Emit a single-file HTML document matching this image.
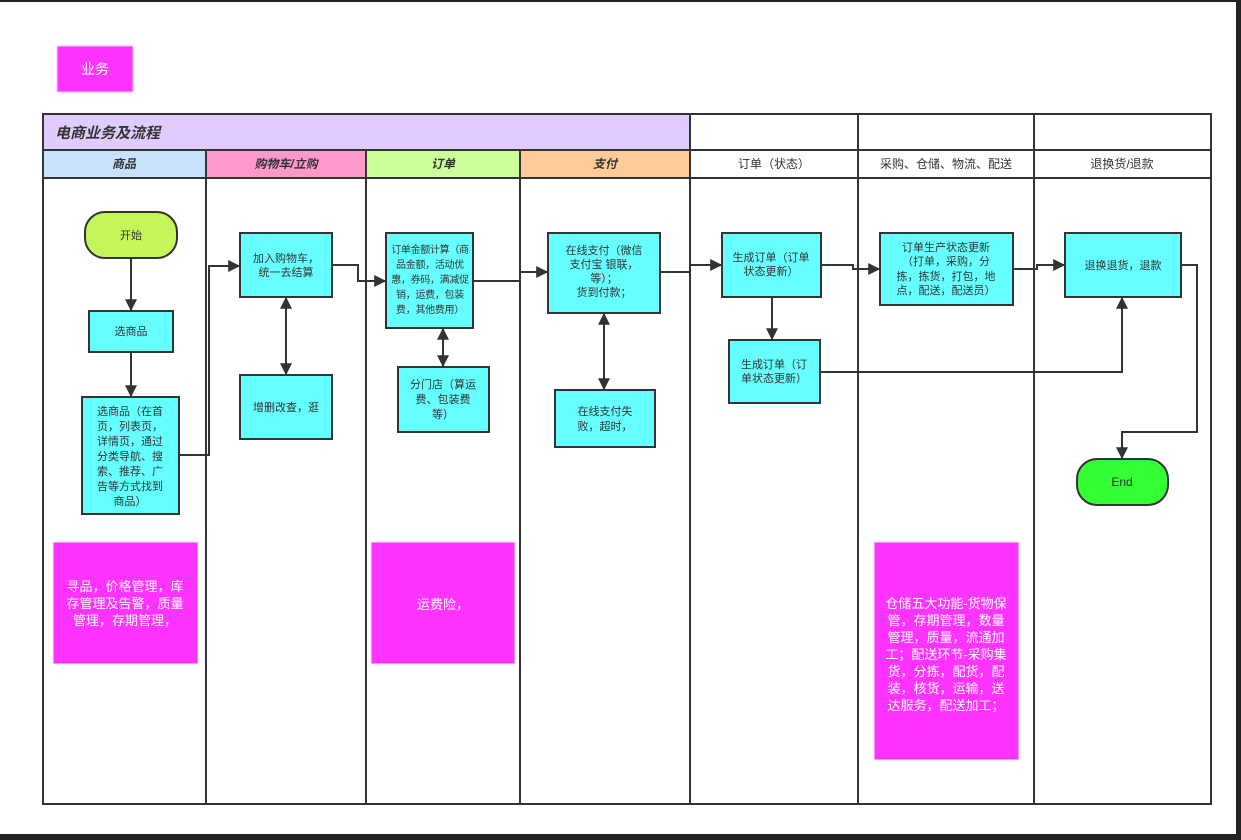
<!DOCTYPE html>
<html><head><meta charset="utf-8"><style>
html,body{margin:0;padding:0;background:#fff;}
body{width:1241px;height:840px;overflow:hidden;position:relative;font-family:"Liberation Sans","Noto Sans CJK SC",sans-serif;}
</style></head><body>
<svg width="1241" height="840" xmlns="http://www.w3.org/2000/svg" style="position:absolute;left:0;top:0" font-family="Liberation Sans, Noto Sans CJK SC, sans-serif">
<defs><marker id="a" viewBox="0 0 10 10" refX="9" refY="5" markerWidth="6" markerHeight="6" orient="auto-start-reverse"><path d="M0,0 L10,5 L0,10 z" fill="#333"/></marker></defs>
<rect x="0" y="0" width="1241" height="2" fill="#222"/>
<rect x="1236" y="0" width="5" height="840" fill="#222"/>
<rect x="0" y="834" width="1241" height="6" fill="#222"/>
<rect x="57" y="46" width="76" height="46" fill="#ff33ff" stroke="#f9c0f9"/>
<text x="95" y="74" fill="#fff" font-size="14" text-anchor="middle">业务</text>
<rect x="43" y="114" width="647" height="36" fill="#e0ccff"/>
<rect x="43" y="150" width="163" height="28" fill="#c8e2fb"/>
<rect x="206" y="150" width="160" height="28" fill="#ff99cc"/>
<rect x="366" y="150" width="154" height="28" fill="#ccff99"/>
<rect x="520" y="150" width="170" height="28" fill="#ffcc99"/>
<g stroke="#333" stroke-width="2" fill="none">
<rect x="43" y="114" width="1168" height="690"/>
<line x1="43" y1="150" x2="1211" y2="150"/>
<line x1="43" y1="178" x2="1211" y2="178"/>
<line x1="206" y1="150" x2="206" y2="804"/>
<line x1="366" y1="150" x2="366" y2="804"/>
<line x1="520" y1="150" x2="520" y2="804"/>
<line x1="690" y1="114" x2="690" y2="804"/>
<line x1="858" y1="114" x2="858" y2="804"/>
<line x1="1034" y1="114" x2="1034" y2="804"/>
</g>
<text x="55" y="138" font-size="15" font-style="italic" font-weight="bold" fill="#333">电商业务及流程</text>
<g font-size="12" font-style="italic" font-weight="bold" fill="#333" text-anchor="middle">
<text x="124" y="168">商品</text><text x="286" y="168">购物车/立购</text><text x="443" y="168">订单</text><text x="605" y="168">支付</text></g>
<g font-size="12" fill="#333" text-anchor="middle">
<text x="774" y="168">订单（状态）</text><text x="946" y="168">采购、仓储、物流、配送</text><text x="1122" y="168">退换货/退款</text></g>
<g stroke="#333" stroke-width="2">
<rect x="85" y="212" width="92" height="46" rx="20" fill="#c4f55a"/>
<rect x="89" y="311" width="84" height="41" fill="#66ffff"/>
<rect x="82" y="397" width="97" height="117" fill="#66ffff"/>
<rect x="240" y="233" width="92" height="64" fill="#66ffff"/>
<rect x="240" y="375" width="92" height="64" fill="#66ffff"/>
<rect x="386" y="233" width="87" height="95" fill="#66ffff"/>
<rect x="398" y="367" width="91" height="65" fill="#66ffff"/>
<rect x="548" y="233" width="112" height="80" fill="#66ffff"/>
<rect x="555" y="390" width="100" height="57" fill="#66ffff"/>
<rect x="722" y="233" width="99" height="64" fill="#66ffff"/>
<rect x="729" y="340" width="91" height="63" fill="#66ffff"/>
<rect x="880" y="233" width="133" height="72" fill="#66ffff"/>
<rect x="1065" y="233" width="116" height="64" fill="#66ffff"/>
<rect x="1077" y="459" width="91" height="46" rx="20" fill="#33ff33"/>
</g>
<g fill="#ff33ff" stroke="#eee">
<rect x="53" y="542" width="145" height="122"/>
<rect x="371" y="542" width="144" height="122"/>
<rect x="874" y="542" width="145" height="218"/>
</g>
<g font-size="11" fill="#333" text-anchor="middle">
<text x="131" y="239">开始</text>
<text x="131" y="335">选商品</text>
<text x="130" y="415">选商品（在首</text><text x="130" y="430">页，列表页，</text><text x="130" y="445">详情页，通过</text><text x="130" y="460">分类导航、搜</text><text x="130" y="475">索、推荐、广</text><text x="130" y="490">告等方式找到</text><text x="130" y="505">商品）</text>
<text x="286" y="262">加入购物车，</text><text x="286" y="276">统一去结算</text>
<text x="286" y="411">增删改查，逛</text>
<g font-size="10" letter-spacing="-0.3">
<text x="430" y="253">订单金额计算（商</text><text x="430" y="268">品金额，活动优</text><text x="430" y="283">惠，券码，满减促</text><text x="430" y="298">销，运费，包装</text><text x="430" y="313">费，其他费用）</text></g>
<text x="443" y="388">分门店（算运</text><text x="443" y="403">费、包装费</text><text x="443" y="418">等）</text>
<text x="604" y="254">在线支付（微信</text><text x="604" y="268">支付宝  银联，</text><text x="604" y="282">等）；</text><text x="604" y="296">货到付款；</text>
<text x="605" y="415">在线支付失</text><text x="605" y="430">败，超时，</text>
<text x="771" y="261">生成订单（订单</text><text x="771" y="275">状态更新）</text>
<text x="774" y="368">生成订单（订</text><text x="774" y="382">单状态更新）</text>
<text x="946" y="251">订单生产状态更新</text><text x="946" y="265">（打单，采购，分</text><text x="946" y="280">拣，拣货，打包，地</text><text x="946" y="294">点，配送，配送员）</text>
<text x="1123" y="269">退换退货，退款</text>
<text x="1122" y="486" font-size="12">End</text>
</g>
<g font-size="13" fill="#fff" text-anchor="middle">
<text x="125" y="591">寻品，价格管理，库</text><text x="125" y="608">存管理及告警，质量</text><text x="125" y="625">管理，存期管理，</text>
<text x="443" y="609">运费险，</text>
<text x="946" y="608">仓储五大功能-货物保</text><text x="946" y="625">管，存期管理，数量</text><text x="946" y="642">管理，质量，流通加</text><text x="946" y="659">工；配送环节-采购集</text><text x="946" y="676">货，分拣，配货，配</text><text x="946" y="693">装，核货，运输，送</text><text x="946" y="710">达服务，配送加工；</text>
</g>
<g stroke="#333" stroke-width="2" fill="none" marker-end="url(#a)">
<line x1="131" y1="258" x2="131" y2="310"/>
<line x1="131" y1="352" x2="131" y2="396"/>
<polyline points="179,455 209,455 209,266 239,266"/>
<polyline points="332,265 358,265 358,281 385,281"/>
<polyline points="473,281 520,281 520,272 547,272"/>
<polyline points="660,272 690,272 690,265 721,265"/>
<polyline points="821,265 853,265 853,269 879,269"/>
<polyline points="1013,269 1037,269 1037,265 1064,265"/>
<polyline points="1181,265 1197,265 1197,432 1122,432 1122,458"/>
<polyline points="820,372 1122,372 1122,298"/>
<line x1="772" y1="297" x2="772" y2="339"/>
<line x1="286" y1="298" x2="286" y2="374" marker-start="url(#a)"/>
<line x1="443" y1="329" x2="443" y2="366" marker-start="url(#a)"/>
<line x1="604" y1="314" x2="604" y2="389" marker-start="url(#a)"/>
</g>
</svg>
</body></html>
